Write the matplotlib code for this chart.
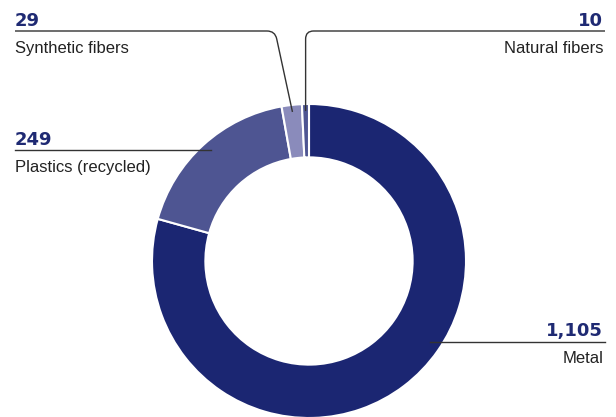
import numpy as np
import matplotlib.pyplot as plt
from matplotlib.path import Path
from matplotlib.patches import PathPatch

# material breakdown, clockwise from 12 o'clock
materials = ["Metal", "Plastics (recycled)", "Synthetic fibers", "Natural fibers"]
amounts = [1105, 249, 29, 10]
value_labels = ["1,105", "249", "29", "10"]
colors = ["#1b2672", "#4e5592", "#8a8bbb", "#4e5592"]

W, H = 616, 417
fig = plt.figure(figsize=(W / 100, H / 100), dpi=100)
ax = fig.add_axes([0, 0, 1, 1])
ax.set_xlim(0, W)
ax.set_ylim(0, H)
ax.set_aspect("equal")
ax.axis("off")

cx, cy = 309, H - 261
R = 157
ax.pie(amounts, colors=colors, startangle=90, counterclock=False,
       center=(cx, cy), radius=R, frame=True,
       wedgeprops=dict(width=R * 0.34, edgecolor="white", linewidth=1.5))
ax.set_xlim(0, W)
ax.set_ylim(0, H)
ax.axis("off")

# mid-angle of each wedge, used for the leader end points
total = sum(amounts)
cum = np.cumsum([0] + amounts[:-1])
mid = [90 - 360 * (c + a / 2) / total for c, a in zip(cum, amounts)]


def wedge_point(i, r=150):
    t = np.deg2rad(mid[i])
    return cx + r * np.cos(t), cy + r * np.sin(t)


line_kw = dict(color="#333333", lw=1.0)
num_kw = dict(color="#1f2a73", fontsize=13, fontweight="bold", family="DejaVu Sans")
txt_kw = dict(color="#222222", fontsize=12, family="Liberation Sans")


def y(v):
    return H - v


def leader(pts):
    # polyline with a small rounded corner at the middle vertex
    (x0, y0), (x1, y1), (x2, y2) = pts
    r = 8
    d1 = np.hypot(x1 - x0, y1 - y0)
    d2 = np.hypot(x2 - x1, y2 - y1)
    a = (x1 - (x1 - x0) * r / d1, y1 - (y1 - y0) * r / d1)
    b = (x1 + (x2 - x1) * r / d2, y1 + (y2 - y1) * r / d2)
    verts = [(x0, y0), a, (x1, y1), b, (x2, y2)]
    codes = [Path.MOVETO, Path.LINETO, Path.CURVE3, Path.CURVE3, Path.LINETO]
    ax.add_patch(PathPatch(Path(verts, codes), fill=False, **line_kw))


# Metal
ax.plot([430, 605], [y(342), y(342)], **line_kw)
ax.text(603, y(336), value_labels[0], ha="right", va="baseline", **num_kw)
ax.text(603, y(363), materials[0], ha="right", va="baseline", **txt_kw)

# Plastics
px, py = wedge_point(1, 120)
ax.plot([15, 211], [y(150), y(150)], **line_kw)
ax.text(15, y(145), value_labels[1], ha="left", va="baseline", **num_kw)
ax.text(15, y(172), materials[1], ha="left", va="baseline", **txt_kw)

# Synthetic fibers
sx, sy = wedge_point(2)
leader([(15, y(31)), (275, y(31)), (sx, sy)])
ax.text(15, y(26), value_labels[2], ha="left", va="baseline", **num_kw)
ax.text(15, y(53), materials[2], ha="left", va="baseline", **txt_kw)

# Natural fibers
nx, ny = wedge_point(3)
leader([(nx, ny), (nx, y(31)), (605, y(31))])
ax.text(603, y(26), value_labels[3], ha="right", va="baseline", **num_kw)
ax.text(603, y(53), materials[3], ha="right", va="baseline", **txt_kw)

fig.savefig("out.png", dpi=100)
